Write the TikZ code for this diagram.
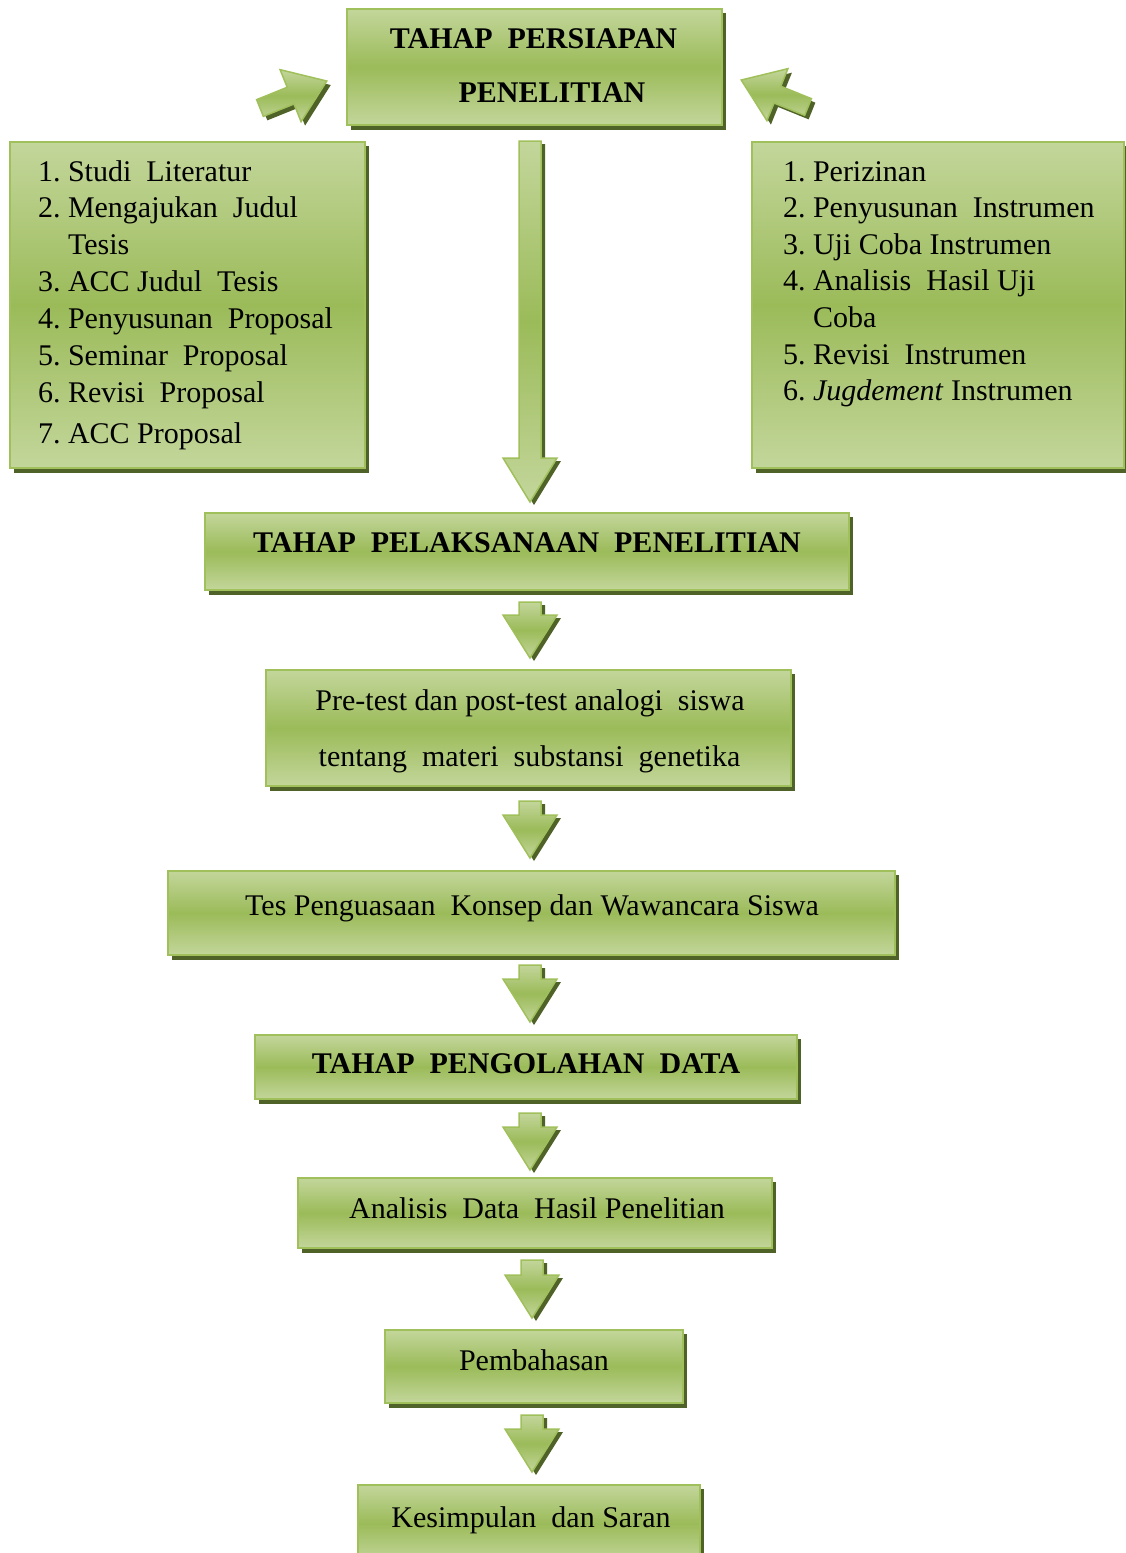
\documentclass[tikz,border=0pt]{standalone}
\usepackage{fontspec}
\setmainfont{Liberation Serif}
\usetikzlibrary{calc}
\definecolor{lg}{HTML}{C3D69B}
\definecolor{mg}{HTML}{9BBB59}
\definecolor{bg}{HTML}{A0C05C}
\definecolor{sg}{HTML}{4F6228}
\tikzset{
  gboxst/.style={draw=bg, line width=2.5pt, top color=lg, bottom color=lg, middle color=mg,
    rectangle, inner sep=0pt, outer sep=0pt},
  txt/.style={font=\fontsize{30}{37}\selectfont, inner sep=0pt, outer sep=0pt, text=black},
  btxt/.style={font=\fontsize{30}{37}\selectfont\bfseries, inner sep=0pt, outer sep=0pt, text=black},
  garrowst/.style={draw=bg, line width=1.5pt, top color=lg, bottom color=lg, middle color=mg},
  pics/downarr/.style 2 args={code={
    \fill[sg] (-7,3) -- (15,3) -- (15,#1+3) -- (31,#1+3) -- (4,#1+#2+3) -- (-23,#1+3) -- (-7,#1+3) -- cycle;
    \path[garrowst] (-11,0) -- (11,0) -- (11,#1) -- (27,#1) -- (0,#1+#2) -- (-27,#1) -- (-11,#1) -- cycle;
  }},
  pics/diagarr/.style={code={
    \path[garrowst] (0,-9) -- (33,-9) -- (33,-28) -- (72,0) -- (33,28) -- (33,9) -- (0,9) -- cycle;
  }},
  pics/diagshadow/.style={code={
    \fill[sg] (0,-9) -- (33,-9) -- (33,-28) -- (72,0) -- (33,28) -- (33,9) -- (0,9) -- cycle;
  }}
}
\newcommand\gbox[5]{%
  \fill[sg] ({#2+4},{#3+4}) rectangle ({#4+4},{#5+5});
  \node[gboxst, minimum width={(#4-#2)*1pt}, minimum height={(#5-#3)*1pt}] (#1) at ({(#2+#4)/2},{(#3+#5)/2}) {};
}
\begin{document}
\begin{tikzpicture}[x=1pt,y=-1pt]
\useasboundingbox (0,0) rectangle (1126,1553);
\clip (0,0) rectangle (1126,1553);
\fill[white] (0,0) rectangle (1126,1553);

% boxes
\gbox{top}{347}{9}{722}{125}
\gbox{left}{10}{142}{365}{468}
\gbox{right}{752}{142}{1124}{468}
\gbox{pel}{205}{513}{849}{590}
\gbox{pre}{266}{670}{791}{786}
\gbox{tes}{168}{871}{895}{955}
\gbox{pen}{255}{1035}{797}{1099}
\gbox{ana}{298}{1178}{772}{1248}
\gbox{pem}{385}{1330}{683}{1403}
\gbox{kes}{358}{1485}{700}{1562}

% diagonal arrows
\pic[shift={(264,112)}, rotate=22] {diagshadow};
\pic[shift={(260,108)}, rotate=22] {diagarr};
\pic[shift={(812,111)}, rotate=158] {diagshadow};
\pic[shift={(808,107)}, rotate=158] {diagarr};

% down arrows
\pic at (530,141) {downarr={317}{44}};
\pic at (530,602) {downarr={13}{43}};
\pic at (530,801) {downarr={14}{43}};
\pic at (530,965) {downarr={14}{43}};
\pic at (530,1113) {downarr={14}{43}};
\pic at (532,1260) {downarr={15}{43}};
\pic at (532,1415) {downarr={14}{43}};

% texts
\node[btxt, anchor=base] (t1) at (533.5,48) {TAHAP\ \ PERSIAPAN};
\node[btxt, anchor=base] (t2) at (552,102) {PENELITIAN};

\node[txt, anchor=base west] (l1) at (38,181) {\makebox[30pt][l]{1.}Studi\ \ Literatur};
\node[txt, anchor=base west] (l2) at (38,217) {\makebox[30pt][l]{2.}Mengajukan\ \ Judul};
\node[txt, anchor=base west] (l3) at (38,254) {\makebox[30pt][l]{}Tesis};
\node[txt, anchor=base west] (l4) at (38,291) {\makebox[30pt][l]{3.}ACC Judul\ \ Tesis};
\node[txt, anchor=base west] (l5) at (38,328) {\makebox[30pt][l]{4.}Penyusunan\ \ Proposal};
\node[txt, anchor=base west] (l6) at (38,365) {\makebox[30pt][l]{5.}Seminar\ \ Proposal};
\node[txt, anchor=base west] (l7) at (38,402) {\makebox[30pt][l]{6.}Revisi\ \ Proposal};
\node[txt, anchor=base west] (l8) at (38,443) {\makebox[30pt][l]{7.}ACC Proposal};

\node[txt, anchor=base west] (r1) at (783,181) {\makebox[30pt][l]{1.}Perizinan};
\node[txt, anchor=base west] (r2) at (783,217) {\makebox[30pt][l]{2.}Penyusunan\ \ Instrumen};
\node[txt, anchor=base west] (r3) at (783,254) {\makebox[30pt][l]{3.}Uji Coba Instrumen};
\node[txt, anchor=base west] (r4) at (783,290) {\makebox[30pt][l]{4.}Analisis\ \ Hasil\ Uji};
\node[txt, anchor=base west] (r5) at (783,327) {\makebox[30pt][l]{}Coba};
\node[txt, anchor=base west] (r6) at (783,364) {\makebox[30pt][l]{5.}Revisi\ \ Instrumen};
\node[txt, anchor=base west] (r7) at (783,400) {\makebox[30pt][l]{6.}\textit{Jugdement} Instrumen};

\node[btxt, anchor=base] (pelt) at (527,552) {TAHAP\ \ PELAKSANAAN\ \ PENELITIAN};
\node[txt, anchor=base] (pre1) at (530,710) {Pre-test dan post-test analogi\ \ siswa};
\node[txt, anchor=base] (pre2) at (529.5,766) {tentang\ \ materi\ \ substansi\ \ genetika};
\node[txt, anchor=base] (test) at (532,915) {Tes Penguasaan\ \ Konsep dan Wawancara Siswa};
\node[btxt, anchor=base] (pent) at (526,1073) {TAHAP\ \ PENGOLAHAN\ \ DATA};
\node[txt, anchor=base] (anat) at (537,1218) {Analisis\ \ Data\ \ Hasil Penelitian};
\node[txt, anchor=base] (pemt) at (534,1370) {Pembahasan};
\node[txt, anchor=base] (kest) at (531,1527) {Kesimpulan\ \ dan Saran};
\end{tikzpicture}
\end{document}
